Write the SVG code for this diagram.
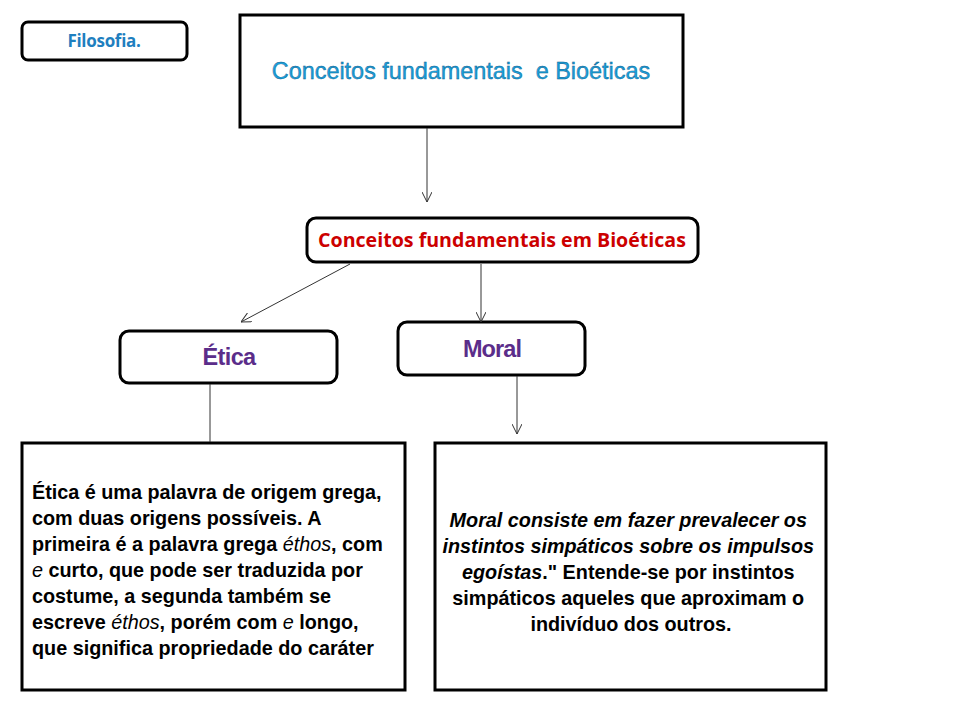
<svg xmlns="http://www.w3.org/2000/svg" width="960" height="720" viewBox="0 0 960 720">
<defs>
<style>
.box{fill:#fff;stroke:#000;stroke-width:3}
.rbox{fill:#fff;stroke:#000;stroke-width:3}
.conn{stroke:#333;stroke-width:1;fill:none}
.body{font-family:"Liberation Sans",Arial,sans-serif;font-weight:bold;font-size:19.8px;fill:#000}
</style>
<marker id="ah" viewBox="0 0 10 10" refX="10" refY="5" markerWidth="10" markerHeight="10" markerUnits="userSpaceOnUse" orient="auto">
<path d="M0,0 L10,5 L0,10" fill="none" stroke="#333" stroke-width="1"/>
</marker>
</defs>
<rect width="960" height="720" fill="#fff"/>
<g id="filosofia">
<rect x="22" y="22" width="165" height="38" rx="6" class="rbox" stroke-width="2.5"/>
<text x="104" y="47" text-anchor="middle" font-family="'Open Sans','Noto Sans',sans-serif" font-size="17" font-weight="bold" fill="#1f7fbf" letter-spacing="-0.3">Filosofia.</text>
</g>
<g id="top">
<rect x="240" y="15" width="443" height="112" class="box"/>
<text x="461" y="79" text-anchor="middle" xml:space="preserve" font-family="'Liberation Sans',Arial,sans-serif" font-size="23.4" fill="#1aa0db" stroke="#0a5a8a" stroke-width="0.4">Conceitos fundamentais  e Bioéticas</text>
</g>
<g id="conceitos">
<rect x="307" y="218" width="391" height="44" rx="9" class="rbox"/>
<text x="502" y="247" text-anchor="middle" font-family="'Open Sans','Noto Sans',sans-serif" font-size="19.6" font-weight="bold" fill="#cc0000">Conceitos fundamentais em Bioéticas</text>
</g>
<g id="etica">
<rect x="120" y="331" width="217" height="52" rx="9" class="rbox"/>
<text x="229" y="365" text-anchor="middle" font-family="'Liberation Sans',Arial,sans-serif" font-size="23.5" font-weight="bold" fill="#5b2d8a" letter-spacing="-0.6">Ética</text>
</g>
<g id="moral">
<rect x="398" y="322" width="187" height="53" rx="9" class="rbox"/>
<text x="492" y="357" text-anchor="middle" font-family="'Liberation Sans',Arial,sans-serif" font-size="23.5" font-weight="bold" fill="#5b2d8a" letter-spacing="-0.9">Moral</text>
</g>
<g id="etica-text">
<rect x="22" y="443" width="383" height="247" class="box"/>
<text class="body">
<tspan x="32" y="499">Ética é uma palavra de origem grega,</tspan>
<tspan x="32" y="525">com duas origens possíveis. A</tspan>
<tspan x="32" y="551">primeira é a palavra grega <tspan font-style="italic" font-weight="normal">éthos</tspan>, com</tspan>
<tspan x="32" y="577"><tspan font-style="italic" font-weight="normal">e</tspan> curto, que pode ser traduzida por</tspan>
<tspan x="32" y="603">costume, a segunda também se</tspan>
<tspan x="32" y="629">escreve <tspan font-style="italic" font-weight="normal">éthos</tspan>, porém com <tspan font-style="italic" font-weight="normal">e</tspan> longo,</tspan>
<tspan x="32" y="655">que significa propriedade do caráter</tspan>
</text>
</g>
<g id="moral-text">
<rect x="435" y="443" width="391" height="247" class="box"/>
<text class="body" text-anchor="middle">
<tspan x="631" y="527" font-style="italic">Moral consiste em fazer prevalecer os</tspan>
<tspan x="631" y="553" font-style="italic">instintos simpáticos sobre os impulsos</tspan>
<tspan x="631" y="579"><tspan font-style="italic">egoístas</tspan>." Entende-se por instintos</tspan>
<tspan x="631" y="605">simpáticos aqueles que aproximam o</tspan>
<tspan x="631" y="631">indivíduo dos outros.</tspan>
</text>
</g>
<g id="connectors">
<line x1="427" y1="128" x2="427" y2="202" class="conn" marker-end="url(#ah)"/>
<line x1="350" y1="264" x2="241" y2="322" class="conn" marker-end="url(#ah)"/>
<line x1="481" y1="264" x2="481" y2="322" class="conn" marker-end="url(#ah)"/>
<line x1="210" y1="384" x2="210" y2="442" class="conn"/>
<line x1="517" y1="376" x2="517" y2="434" class="conn" marker-end="url(#ah)"/>
</g>
</svg>
